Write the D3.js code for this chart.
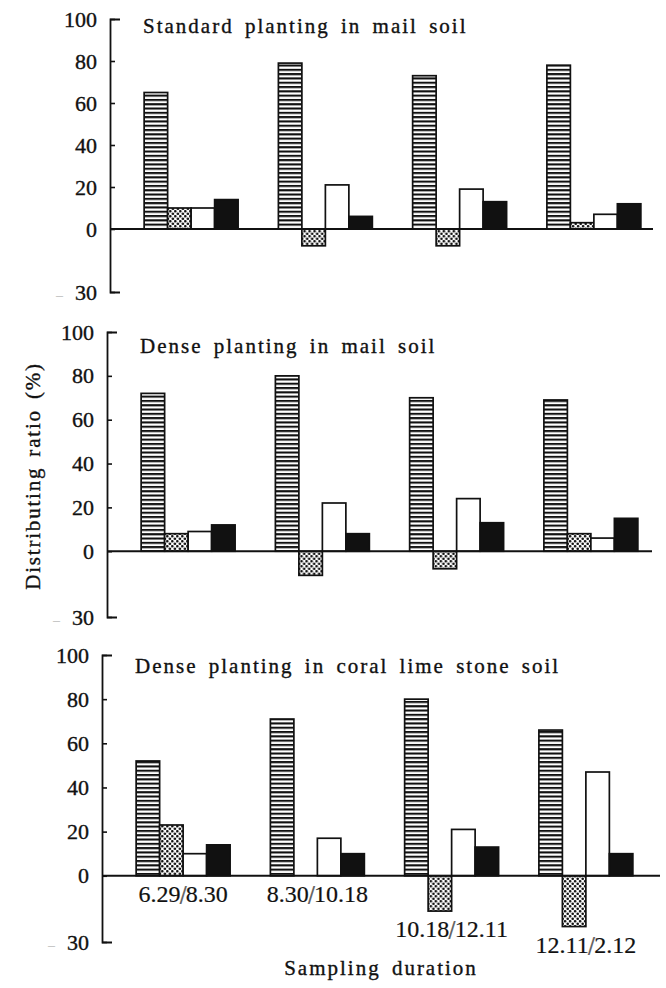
<!DOCTYPE html>
<html>
<head>
<meta charset="utf-8">
<script src="https://cdn.jsdelivr.net/npm/d3@7"></script>
<style>
  body { margin: 0; background: #fff; }
  svg { display: block; }
  svg text {
    font-family: "Liberation Serif", "Times New Roman", "DejaVu Serif", serif;
    fill: #111;
    stroke: #111;
    stroke-width: 0.35px;
  }
</style>
</head>
<body>
<svg id="chart" width="666" height="988"></svg>
<script>
const categories = ["6.29", "8.30", "10.18", "12.11"];
const categoryEnds = ["8.30", "10.18", "12.11", "2.12"];
const seriesNames = ["hatched", "dotted", "open", "solid"];
const yTicks = [-30, 0, 20, 40, 60, 80, 100];

const panelTitles = [
  "Standard planting in mail soil",
  "Dense planting in mail soil",
  "Dense planting in coral lime stone soil"
];

// values per panel, one array per series (%)
const standardMail = {
  hatched: [65, 79, 73, 78],
  dotted: [10, -8, -8, 3],
  open: [10, 21, 19, 7],
  solid: [14, 6, 13, 12]
};
const denseMail = {
  hatched: [72, 80, 70, 69],
  dotted: [8, -11, -8, 8],
  open: [9, 22, 24, 6],
  solid: [12, 8, 13, 15]
};
const denseCoral = {
  hatched: [52, 71, 80, 66],
  dotted: [23, 0, -16, -23],
  open: [10, 17, 21, 47],
  solid: [14, 10, 13, 10]
};
const panelData = [standardMail, denseMail, denseCoral];

// layout of the three stacked panels
const panelLayout = [
  { axisX: 110, lineEnd: 653, top: 19, bottom: 292, titleY: 33 },
  { axisX: 107, lineEnd: 652, top: 332, bottom: 617, titleY: 353 },
  { axisX: 102, lineEnd: 660, top: 655, bottom: 942, titleY: 673 }
];

const svg = d3.select("#chart");
const defs = svg.append("defs");

const stripe = defs.append("pattern")
  .attr("id", "hstripe")
  .attr("patternUnits", "userSpaceOnUse")
  .attr("width", 8).attr("height", 4.3);
stripe.append("rect").attr("width", 8).attr("height", 4.3).attr("fill", "#fff");
stripe.append("rect").attr("width", 8).attr("height", 2.1).attr("fill", "#111");

const dots = defs.append("pattern")
  .attr("id", "dots")
  .attr("patternUnits", "userSpaceOnUse")
  .attr("width", 5).attr("height", 5);
dots.append("rect").attr("width", 5).attr("height", 5).attr("fill", "#fff");
dots.append("circle").attr("cx", 1.25).attr("cy", 1.25).attr("r", 1.3).attr("fill", "#111");
dots.append("circle").attr("cx", 3.75).attr("cy", 3.75).attr("r", 1.3).attr("fill", "#111");

const fills = { hatched: "url(#hstripe)", dotted: "url(#dots)", open: "#fff", solid: "#111" };

panelData.forEach((data, p) => {
  const lay = panelLayout[p];
  const g = svg.append("g");

  const y = d3.scaleLinear().domain([-30, 100]).range([lay.bottom, lay.top]);

  const x0 = d3.scaleBand()
    .domain(categories)
    .range([lay.axisX + 14, lay.axisX + 551])
    .paddingInner(0.3)
    .paddingOuter(0.15);

  const x1 = d3.scaleBand()
    .domain(seriesNames)
    .range([0, x0.bandwidth()]);

  // title
  g.append("text")
    .attr("x", lay.axisX + 33)
    .attr("y", lay.titleY)
    .style("font-size", "21px")
    .style("letter-spacing", "2px")
    .style("word-spacing", "4px")
    .text(panelTitles[p]);

  // bars
  const groups = g.selectAll(".grp")
    .data(categories)
    .enter()
    .append("g")
    .attr("transform", (c) => `translate(${x0(c)},0)`);

  groups.selectAll("rect")
    .data((c, i) => seriesNames.map((s) => ({ s, v: data[s][i] })).filter((d) => d.v !== 0))
    .enter()
    .append("rect")
    .attr("x", (d) => x1(d.s))
    .attr("y", (d) => y(Math.max(0, d.v)))
    .attr("width", x1.bandwidth())
    .attr("height", (d) => Math.abs(y(d.v) - y(0)))
    .attr("fill", (d) => fills[d.s])
    .attr("stroke", "#111")
    .attr("stroke-width", 1.7);

  // zero line
  g.append("line")
    .attr("x1", lay.axisX)
    .attr("x2", lay.lineEnd)
    .attr("y1", y(0))
    .attr("y2", y(0))
    .attr("stroke", "#111")
    .attr("stroke-width", 2);

  // y axis
  const yAxis = d3.axisLeft(y)
    .tickValues(yTicks)
    .tickSizeInner(-5)
    .tickSizeOuter(-10)
    .tickPadding(13)
    .tickFormat((d) => Math.abs(d));

  const ax = g.append("g")
    .attr("transform", `translate(${lay.axisX},0)`)
    .call(yAxis);

  ax.select(".domain").attr("stroke", "#111").attr("stroke-width", 1.8);
  ax.selectAll(".tick line").attr("stroke", "#111").attr("stroke-width", 1.6);
  ax.selectAll(".tick text")
    .style("font-size", "22px")
    .attr("fill", "#111");

  ax.selectAll(".tick")
    .filter((d) => d < 0)
    .select("text")
    .text(null)
    .call((t) => {
      t.append("tspan")
        .style("fill", "#bbb")
        .style("stroke", "none")
        .style("font-size", "14px")
        .text("–");
      t.append("tspan").attr("dx", 12).text("30");
    });

  // category labels on the last panel, set under the lowest bar of each group
  if (p === panelData.length - 1) {
    g.selectAll(".cat")
      .data(categories)
      .enter()
      .append("text")
      .attr("x", (c) => x0(c) + x0.bandwidth() / 2)
      .attr("y", (c, i) => y(Math.min(0, ...seriesNames.map((s) => data[s][i]))) + 26)
      .attr("text-anchor", "middle")
      .style("font-size", "24px")
      .style("stroke-width", "0.2px")
      .call((t) => {
        t.append("tspan").text((c) => c);
        t.append("tspan")
          .style("font-family", "'DejaVu Sans', sans-serif")
          .style("font-size", "22px")
          .style("fill", "#666")
          .style("stroke", "none")
          .attr("dx", -1)
          .text("∕");
        t.append("tspan").attr("dx", -1).text((c, i) => categoryEnds[i]);
      });
  }
});

// axis titles
svg.append("text")
  .attr("transform", "translate(40,476) rotate(-90)")
  .attr("text-anchor", "middle")
  .style("font-size", "21px")
  .style("letter-spacing", "1.8px")
  .style("word-spacing", "3px")
  .text("Distributing ratio  (%)");

svg.append("text")
  .attr("x", 381)
  .attr("y", 975)
  .attr("text-anchor", "middle")
  .style("font-size", "21px")
  .style("letter-spacing", "2px")
  .style("word-spacing", "4px")
  .text("Sampling duration");
</script>
</body>
</html>
